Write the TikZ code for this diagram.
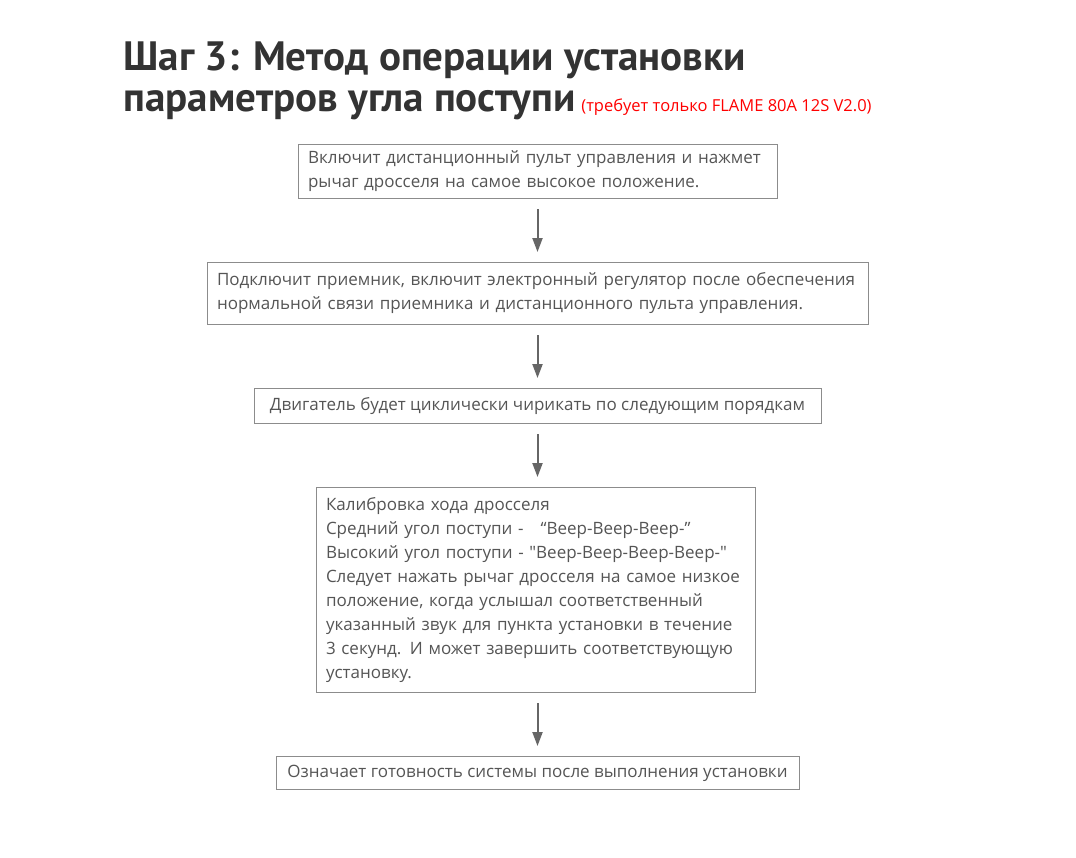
\documentclass[tikz,border=0pt]{standalone}
\usepackage{fontspec}
\setmainfont{Open Sans}
\newfontfamily\bodyfont{Open Sans}
\newfontfamily\titlefont{PT Sans}
\usepackage{xcolor}
\usetikzlibrary{positioning,arrows.meta}

\definecolor{titlegray}{HTML}{333333}
\definecolor{txtgray}{HTML}{555555}
\definecolor{boxgray}{HTML}{8C8C8C}
\definecolor{arrgray}{HTML}{666666}

\begin{document}
\begin{tikzpicture}[
  x=1pt, y=-1pt,
  font=\bodyfont\fontsize{17}{24}\selectfont,
  stepbox/.style={draw=boxgray, line width=1pt, align=left, inner xsep=10pt,
                  inner ysep=2pt, text=txtgray},
  ttl/.style={anchor=base west, text=titlegray, font=\titlefont\bfseries\fontsize{41}{44}\selectfont},
  flow/.style={-{Triangle[length=14pt,width=10pt]}, line width=2pt, draw=arrgray,
               shorten <=10pt, shorten >=10pt},
  node distance=63pt
]
\useasboundingbox[fill=white] (0,0) rectangle (1076,857);

% title
\node[ttl] (title1) at (120,70) {Шаг 3: Метод операции установки};
\node[ttl] (title2) at (120,111) {параметров угла поступи};
\node[anchor=base west, text=red, font=\bodyfont\fontsize{16.5}{18}\selectfont, inner xsep=2pt]
  (note) at (title2.base east) {(требует только FLAME 80A 12S V2.0)};

% steps
\node[stepbox, text width=459pt, minimum height=54pt] (s1) at (537.5,171.5)
  {Включит дистанционный пульт управления и нажмет\\рычаг дросселя на самое высокое положение.};
\node[stepbox, text width=641pt, minimum height=62pt, below=of s1] (s2)
  {Подключит приемник, включит электронный регулятор после обеспечения\\нормальной связи приемника и дистанционного пульта управления.};
\node[stepbox, align=center, minimum width=567pt, minimum height=35pt, below=of s2] (s3)
  {Двигатель будет циклически чирикать по следующим порядкам};
\node[stepbox, text width=419pt, minimum height=205pt, below=of s3, xshift=-2pt] (s4)
  {Калибровка хода дросселя\\
   Средний угол поступи -\hspace{1em}“Beep-Beep-Beep-”\\
   Высокий угол поступи - "Beep-Beep-Beep-Beep-"\\
   Следует нажать рычаг дросселя на самое низкое\\
   положение, когда услышал соответственный\\
   указанный звук для пункта установки в течение\\
   3 секунд. И может завершить соответствующую\\
   установку.};
\node[stepbox, align=center, minimum width=523pt, minimum height=33pt, below=of s4, xshift=2pt] (s5)
  {Означает готовность системы после выполнения установки};

% arrows
\draw[flow] (s1.south) -- (s1.south |- s2.north);
\draw[flow] (s2.south) -- (s2.south |- s3.north);
\draw[flow] (s3.south) -- (s3.south |- s4.north);
\draw[flow] (s4.south -| s5.north) -- (s5.north);
\end{tikzpicture}
\end{document}
